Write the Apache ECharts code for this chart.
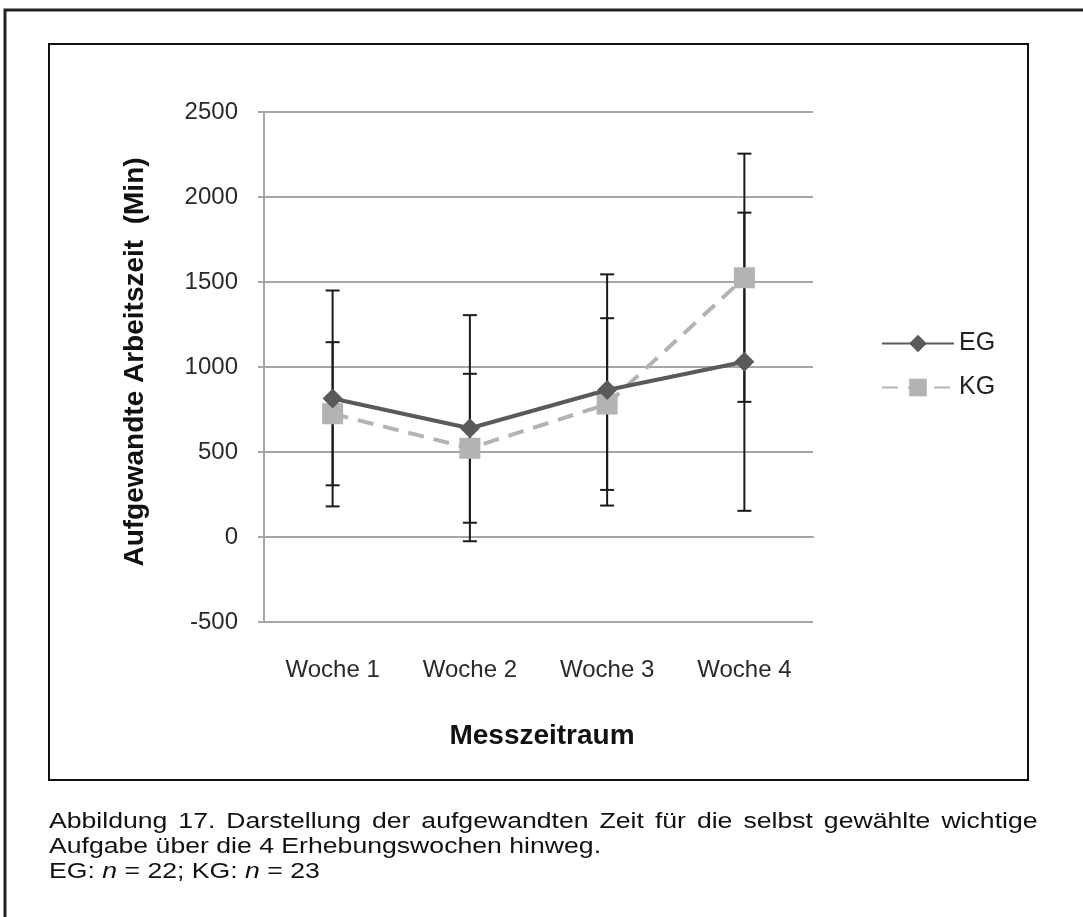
<!DOCTYPE html>
<html>
<head>
<meta charset="utf-8">
<script src="https://cdn.jsdelivr.net/npm/echarts@6/dist/echarts.min.js"></script>
<style>
  html, body { margin: 0; padding: 0; background: #fff; }
  #chart { position: absolute; left: 0; top: 0; width: 1083px; height: 917px; }
  #caption { position: absolute; left: 49px; top: 808px; width: 817px;
    transform: scaleX(1.21); transform-origin: 0 0;
    font-family: "Liberation Sans", Arial, sans-serif; font-size: 22px; line-height: 25px; color: #111; }
  #caption .l1 { text-align: justify; text-align-last: justify; }
</style>
</head>
<body>
<div id="chart"></div>
<div id="caption">
  <div class="l1">Abbildung 17. Darstellung der aufgewandten Zeit für die selbst gewählte wichtige</div>
  <div>Aufgabe über die 4 Erhebungswochen hinweg.</div>
  <div>EG: <i>n</i> = 22; KG: <i>n</i> = 23</div>
</div>
<script>
const categories = ['Woche 1', 'Woche 2', 'Woche 3', 'Woche 4'];
const egMean = [815, 640, 865, 1031];
const egSD   = [635, 665, 680, 877];
const kgMean = [725, 522, 782, 1525];
const kgSD   = [421, 438, 505, 730];
const yTicks = { min: -500, max: 2500, interval: 500 };
const seriesNames = ['EG', 'KG'];
const yTitle = 'Aufgewandte Arbeitszeit  (Min)';
const xTitle = 'Messzeitraum';

const FONT = '"Liberation Sans", Arial, sans-serif';
const errData = [];
categories.forEach((c, i) => {
  errData.push([i, egMean[i] - egSD[i], egMean[i] + egSD[i]]);
  errData.push([i, kgMean[i] - kgSD[i], kgMean[i] + kgSD[i]]);
});

const chart = echarts.init(document.getElementById('chart'), null, { renderer: 'canvas' });
chart.setOption({
  backgroundColor: '#fff',
  animation: false,
  textStyle: { fontFamily: FONT },
  grid: { left: 264, right: 270, top: 112, bottom: 295, containLabel: false },
  legend: {
    data: seriesNames,
    orient: 'vertical',
    left: 876, top: 326,
    itemWidth: 72, itemHeight: 22, itemGap: 19,
    textStyle: { fontSize: 25, color: '#222', fontFamily: FONT }
  },
  xAxis: {
    type: 'category',
    data: categories,
    boundaryGap: true,
    axisLine: { show: true, lineStyle: { color: '#a6a6a6', width: 2 } },
    axisTick: { show: false },
    axisLabel: { fontSize: 24, color: '#2a2a2a', margin: 36, fontFamily: FONT }
  },
  yAxis: {
    type: 'value',
    min: yTicks.min, max: yTicks.max, interval: yTicks.interval,
    axisLine: { show: true, lineStyle: { color: '#a6a6a6', width: 2 } },
    axisTick: { show: true, length: 6, lineStyle: { color: '#a6a6a6', width: 2 } },
    axisLabel: { fontSize: 24, color: '#2a2a2a', margin: 26, fontFamily: FONT,
      formatter: function (v) { return String(v); } },
    splitLine: { show: true, lineStyle: { color: '#a6a6a6', width: 2 } }
  },
  graphic: [
    { type: 'rect', shape: { x: 5, y: 10, width: 1300, height: 1200 },
      style: { fill: null, stroke: '#222', lineWidth: 3 }, z: 0, silent: true },
    { type: 'rect', shape: { x: 49, y: 44, width: 979, height: 736 },
      style: { fill: null, stroke: '#111', lineWidth: 2 }, z: 0, silent: true },
    { type: 'text', x: 135, y: 362, rotation: Math.PI / 2,
      style: { text: yTitle, font: 'bold 28px ' + FONT, fill: '#111',
        textAlign: 'center', textVerticalAlign: 'middle' } },
    { type: 'text', x: 542, y: 736,
      style: { text: xTitle, font: 'bold 28px ' + FONT, fill: '#111',
        textAlign: 'center', textVerticalAlign: 'middle' } }
  ],
  series: [
    {
      name: 'errors',
      type: 'custom',
      z: 1,
      data: errData,
      encode: { x: 0, y: [1, 2] },
      renderItem: function (params, api) {
        const x = api.value(0);
        const lo = api.coord([x, api.value(1)]);
        const hi = api.coord([x, api.value(2)]);
        const hw = 7;
        const style = { stroke: '#1a1a1a', lineWidth: 2 };
        return {
          type: 'group',
          children: [
            { type: 'line', shape: { x1: hi[0], y1: hi[1], x2: lo[0], y2: lo[1] }, style: style },
            { type: 'line', shape: { x1: hi[0] - hw, y1: hi[1], x2: hi[0] + hw, y2: hi[1] }, style: style },
            { type: 'line', shape: { x1: lo[0] - hw, y1: lo[1], x2: lo[0] + hw, y2: lo[1] }, style: style }
          ]
        };
      }
    },
    {
      name: seriesNames[0],
      type: 'line',
      z: 3,
      data: egMean,
      symbol: 'diamond',
      symbolSize: 20,
      color: '#5a5a5a',
      itemStyle: { color: '#5a5a5a' },
      lineStyle: { color: '#5a5a5a', width: 4 }
    },
    {
      name: seriesNames[1],
      type: 'line',
      z: 2,
      data: kgMean,
      symbol: 'rect',
      symbolSize: 21,
      color: '#b3b3b3',
      itemStyle: { color: '#b3b3b3' },
      lineStyle: { color: '#b3b3b3', width: 4, type: [16, 10] }
    }
  ]
});
</script>
</body>
</html>
